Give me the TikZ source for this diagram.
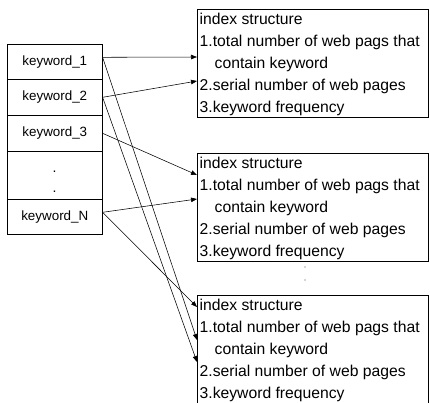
\documentclass[tikz,border=0pt]{standalone}
\usepackage{fontspec}
\setmainfont{Liberation Sans}
\usetikzlibrary{arrows.meta,calc}

% One index-structure box: #1 = node name, #2 = top edge
\newcommand\indexbox[2]{%
  \node[ibox] (#1) at (197,#2) {};
  \node[iline] (#1-1) at ($(#1.north west)+(2.5,15)$) {index structure};
  \node[iline] (#1-2) at ($(#1.north west)+(2.5,37)$) {1.total number of web pags that};
  \node[iline] (#1-3) at ($(#1.north west)+(17.5,59)$) {contain keyword};
  \node[iline] (#1-4) at ($(#1.north west)+(2.5,81)$) {2.serial number of web pages};
  \node[iline] (#1-5) at ($(#1.north west)+(2.5,103)$) {3.keyword frequency};
}

\begin{document}
\begin{tikzpicture}[x=1pt,y=-1pt,
  cell/.style={draw,line width=0.6pt,minimum width=95pt,anchor=north west,
    inner sep=0pt,font=\fontsize{13.4}{16}\selectfont},
  ibox/.style={draw,line width=0.6pt,minimum width=231pt,minimum height=108pt,
    anchor=north west,inner sep=0pt},
  iline/.style={anchor=base west,inner sep=0pt,font=\fontsize{15.7}{22}\selectfont},
  dot/.style={anchor=base,inner sep=0pt,font=\fontsize{14}{16}\selectfont},
  gapdot/.style={circle,fill=black!70,inner sep=0pt,minimum size=1.3pt},
  link/.style={line width=0.55pt,-{Triangle[length=6pt,width=4.5pt]}}]
\useasboundingbox (0,0) rectangle (430,402);

% keyword table
\node[cell,minimum height=35pt] (k1) at (7,44) {keyword\_1};
\node[cell,minimum height=36pt] (k2) at (7,79) {keyword\_2};
\node[cell,minimum height=36pt] (k3) at (7,115) {keyword\_3};
\node[cell,minimum height=48pt] (kd) at (7,151) {};
\node[cell,minimum height=35pt] (kn) at (7,199) {keyword\_N};
\node[dot] (kd1) at (54.5,172.5) {.};
\node[dot] (kd2) at (54.5,192.5) {.};

% index structures
\indexbox{ta}{9}
\indexbox{tb}{153}
\indexbox{tc}{295}
\node[gapdot] (g1) at (305,267) {};
\node[gapdot] (g2) at (305,280) {};

% links from keywords to index structures
\coordinate (s1) at ($(k1.east)+(0,-4.5)$);
\coordinate (s2) at (k2.east);
\coordinate (s3) at (k3.east);
\coordinate (sn) at ($(kn.east)+(0,-4.5)$);
\draw[link] (s1) -- ($(ta.north west)+(0,48)$);
\draw[link] (s2) -- ($(ta.north west)+(0,72)$);
\draw[link] (s3) -- ($(tb.north west)+(0,22)$);
\draw[link] (sn) -- ($(tb.north west)+(0,46)$);
\draw[link] (sn) -- ($(tc.north west)+(0,12)$);
\draw[link] (s1) -- ($(tc.north west)+(0,45)$);
\draw[link] (s2) -- ($(tc.north west)+(0,67)$);
\end{tikzpicture}
\end{document}
